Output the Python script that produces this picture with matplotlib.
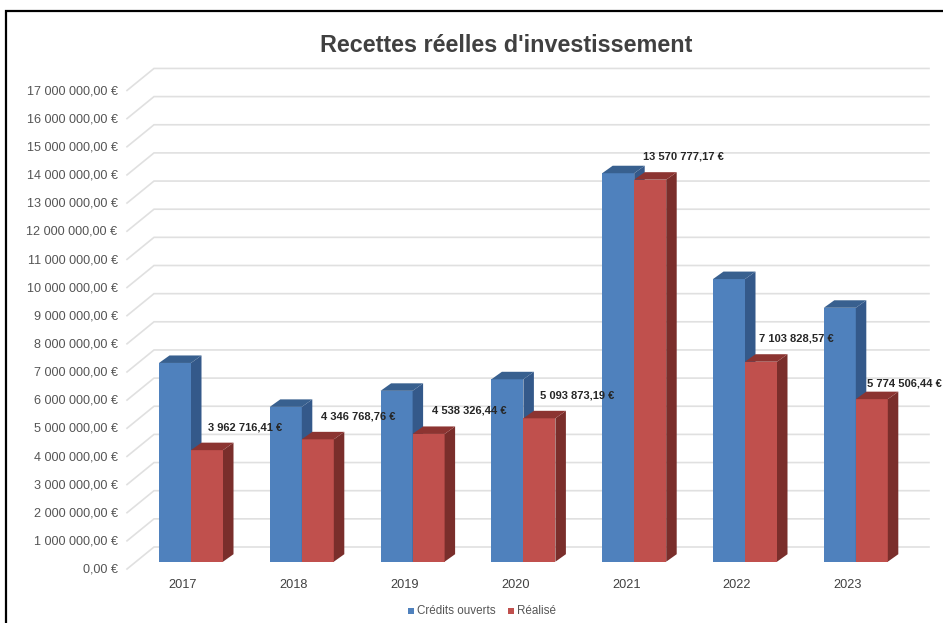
# Recettes reelles d'investissement - fake 3D clustered bars
import matplotlib
matplotlib.use("Agg")
import matplotlib.pyplot as plt
from matplotlib.lines import Line2D
from matplotlib.patches import Polygon, Rectangle

plt.rcParams['font.family'] = ['Liberation Sans', 'DejaVu Sans']

years = ['2017', '2018', '2019', '2020', '2021', '2022', '2023']
credits_ouverts = [7060000, 5500000, 6070000, 6480000, 13800000, 10040000, 9020000]
realise = [3962716.41, 4346768.76, 4538326.44, 5093873.19, 13570777.17, 7103828.57, 5774506.44]
realise_labels = ['3 962 716,41 €', '4 346 768,76 €', '4 538 326,44 €', '5 093 873,19 €',
                  '13 570 777,17 €', '7 103 828,57 €', '5 774 506,44 €']
y_ticks = list(range(0, 18))

W, H = 943, 623
PX_X = 110.8             # pixels for one category
PX_M = 28.15             # pixels for one million
X0, Y0 = 191, 561.7      # pixel position of first group centre, bar floor
DEPTH_X, DEPTH_Y = 10.5, 7.5


def dx(px):
    return px / PX_X


def dy(px):
    return px / PX_M * 1e6


def bar3d(ax, x, w, v, front, side, top):
    ax.bar(x, v, w, align='edge', color=front, linewidth=0, zorder=3)
    ox, oy = dx(DEPTH_X), dy(DEPTH_Y)
    ax.add_patch(Polygon([(x + w, 0), (x + w + ox, oy), (x + w + ox, v + oy), (x + w, v)],
                         facecolor=side, edgecolor='none', zorder=3))
    ax.add_patch(Polygon([(x, v), (x + ox, v + oy), (x + w + ox, v + oy), (x + w, v)],
                         facecolor=top, edgecolor='none', zorder=3))


fig = plt.figure(figsize=(W / 100, H / 100), dpi=100)
ax = fig.add_axes([0, 0, 1, 1])
ax.set_xlim(-X0 / PX_X, (W - X0) / PX_X)
ax.set_ylim(-(H - Y0) / PX_M * 1e6, Y0 / PX_M * 1e6)
ax.axis('off')

# back wall lines and the little diagonals on the left
left = dx(127 - X0)
for t in y_ticks:
    v = t * 1e6
    y_front = v - dy(7.3)
    y_back = y_front + dy(22)
    ax.plot([left, left + dx(27), dx(929 - X0)], [y_front, y_back, y_back],
            color='#e0e0e0', lw=1.2, zorder=1, solid_joinstyle='miter')
    label = f'{t} 000 000,00 €' if t > 0 else '0,00 €'
    ax.text(dx(117.5 - X0), y_front - dy(0.7), label, ha='right', va='center', fontsize=9.1, color='#555555')

bw = dx(32)
for i, yr in enumerate(years):
    bar3d(ax, i - bw, bw, credits_ouverts[i], '#4f81bd', '#34598a', '#38608f')
    bar3d(ax, i, bw, realise[i], '#c0504d', '#7a2e2b', '#8c3431')
    ax.text(i - dx(8), -dy(23), yr, ha='center', va='center', fontsize=9.2, color='#404040')

# data labels of the second series, hand placed like the original
label_dx = [54, 56, 57, 54, 49, 51, 49]
for i, lab in enumerate(realise_labels):
    shift = dy(16) if i == len(years) - 1 else dy(23)
    ax.text(i + dx(label_dx[i]), realise[i] + shift, lab, ha='center', va='center', fontsize=8.0,
            color='#262626', fontweight='bold', zorder=5)

fig.text(506.5 / W, 1 - 46 / H, "Recettes réelles d'investissement", ha='center', va='center',
         fontsize=16.8, fontweight='bold', color='#404040')

# legend
for x_sq, col, txt in [(408, '#4f81bd', 'Crédits ouverts'), (508, '#c0504d', 'Réalisé')]:
    fig.add_artist(Rectangle((x_sq / W, 1 - 614 / H), 6 / W, 6 / H, transform=fig.transFigure,
                             facecolor=col, edgecolor='none'))
    fig.text((x_sq + 9) / W, 1 - 611.5 / H, txt, ha='left', va='center', fontsize=8.4, color='#555555')

# outer frame, only left and top show
fig.add_artist(Line2D([6 / W, 6 / W, 1], [0, 1 - 10.5 / H, 1 - 10.5 / H], color='black', lw=1.6,
                      transform=fig.transFigure, solid_joinstyle='miter'))

fig.savefig('out.png', dpi=100)
